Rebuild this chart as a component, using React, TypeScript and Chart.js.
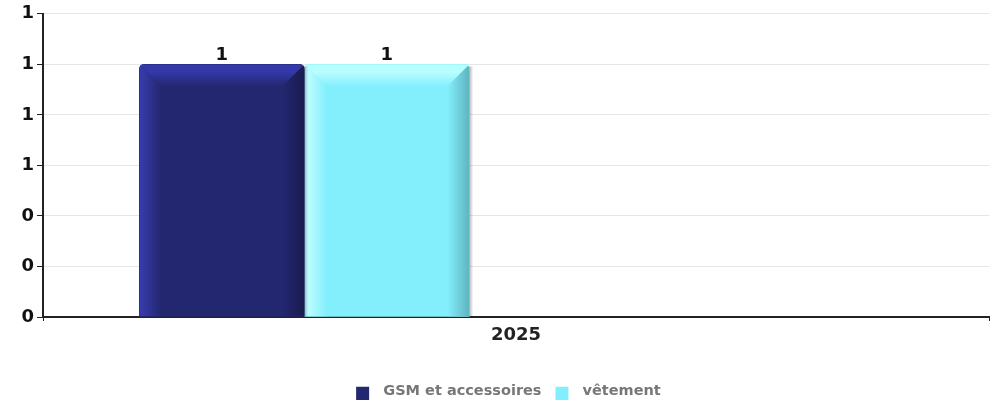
import { useEffect, useRef } from 'react';
import { Chart, registerables } from 'chart.js';

Chart.register(...registerables);

// ---- data ----
const categories = ['2025'];
const seriesNames = ['GSM et accessoires', 'vêtement'];
const gsmValues = [1];
const vetementValues = [1];
const yMin = 0;
const yMax = 1.2;
const yStep = 0.2;

// ---- styles ----
const FONT = "'DejaVu Sans', 'Liberation Sans', sans-serif";
const baseColors = ['#23276f', '#84effc'];
const leftColors = ['#383cae', '#c8ffff'];
const topColors = ['#3438a8', '#b8feff'];
const rightColors = ['#1a1b50', '#5db4bf'];

function makeSwatch(color: string) {
  const c = document.createElement('canvas');
  c.width = 26;
  c.height = 17;
  const g = c.getContext('2d')!;
  g.fillStyle = color;
  g.fillRect(6, 4, 13, 13);
  return c;
}

function topRoundedRect(ctx: CanvasRenderingContext2D, x0: number, y0: number, x1: number, y1: number, r: number) {
  ctx.beginPath();
  ctx.moveTo(x0, y1);
  ctx.lineTo(x0, y0 + r);
  ctx.quadraticCurveTo(x0, y0, x0 + r, y0);
  ctx.lineTo(x1 - r, y0);
  ctx.quadraticCurveTo(x1, y0, x1, y0 + r);
  ctx.lineTo(x1, y1);
  ctx.closePath();
}

const bevelPlugin = {
  id: 'bevel',
  afterDatasetDraw(chart: any, args: any) {
    const ctx: CanvasRenderingContext2D = chart.ctx;
    const i = args.index;
    args.meta.data.forEach((el: any) => {
      const p = el.getProps(['x', 'y', 'base', 'width'], true);
      const x0 = p.x - p.width / 2;
      const x1 = p.x + p.width / 2;
      const y0 = Math.min(p.y, p.base);
      const y1 = Math.max(p.y, p.base);
      const b = Math.min(22, p.width / 4, (y1 - y0) / 2);
      ctx.save();
      // right shadow
      const sg = ctx.createLinearGradient(x1, 0, x1 + 4, 0);
      sg.addColorStop(0, 'rgba(0,0,0,0.28)');
      sg.addColorStop(1, 'rgba(0,0,0,0)');
      ctx.fillStyle = sg;
      ctx.fillRect(x1, y0 + 2, 4, y1 - y0 - 2);
      topRoundedRect(ctx, x0, y0, x1, y1, 5);
      ctx.clip();
      // left strip
      let g = ctx.createLinearGradient(x0, 0, x0 + b, 0);
      g.addColorStop(0, leftColors[i]);
      g.addColorStop(1, baseColors[i]);
      ctx.fillStyle = g;
      ctx.beginPath();
      ctx.moveTo(x0, y0);
      ctx.lineTo(x0 + b, y0 + b);
      ctx.lineTo(x0 + b, y1);
      ctx.lineTo(x0, y1);
      ctx.closePath();
      ctx.fill();
      // right strip
      g = ctx.createLinearGradient(x1 - b, 0, x1, 0);
      g.addColorStop(0, baseColors[i]);
      g.addColorStop(1, rightColors[i]);
      ctx.fillStyle = g;
      ctx.beginPath();
      ctx.moveTo(x1, y0);
      ctx.lineTo(x1, y1);
      ctx.lineTo(x1 - b, y1);
      ctx.lineTo(x1 - b, y0 + b);
      ctx.closePath();
      ctx.fill();
      // top strip
      g = ctx.createLinearGradient(0, y0, 0, y0 + b);
      g.addColorStop(0, topColors[i]);
      g.addColorStop(0.35, topColors[i]);
      g.addColorStop(1, baseColors[i]);
      ctx.fillStyle = g;
      ctx.beginPath();
      ctx.moveTo(x0, y0);
      ctx.lineTo(x1, y0);
      ctx.lineTo(x1 - b, y0 + b);
      ctx.lineTo(x0 + b, y0 + b);
      ctx.closePath();
      ctx.fill();
      ctx.restore();
    });
  },
};

const valueLabelPlugin = {
  id: 'valueLabels',
  afterDatasetsDraw(chart: any) {
    const ctx: CanvasRenderingContext2D = chart.ctx;
    ctx.save();
    ctx.font = `bold 18px ${FONT}`;
    ctx.fillStyle = '#111';
    ctx.textAlign = 'center';
    ctx.textBaseline = 'alphabetic';
    chart.data.datasets.forEach((ds: any, di: number) => {
      const meta = chart.getDatasetMeta(di);
      meta.data.forEach((el: any, j: number) => {
        const v = ds.data[j];
        if (v == null) return;
        ctx.fillText(String(Math.round(v)), el.x, el.y - 4);
      });
    });
    ctx.restore();
  },
};

export default function App() {
  const ref = useRef<HTMLCanvasElement | null>(null);

  useEffect(() => {
    if (!ref.current) return;
    const year = Number(categories[0]);
    const seriesValues = [gsmValues, vetementValues];
    const chart = new Chart(ref.current, {
      type: 'bar',
      data: {
        labels: categories,
        datasets: seriesNames.map((name, i) => ({
          label: name,
          data: seriesValues[i],
          backgroundColor: baseColors[i],
          borderWidth: 0,
          borderRadius: { topLeft: 5, topRight: 5, bottomLeft: 0, bottomRight: 0 },
          borderSkipped: 'bottom',
          barThickness: 165,
          xAxisID: 'xb',
          yAxisID: 'y',
        })),
      },
      options: {
        responsive: false,
        animation: false,
        events: [],
        layout: { padding: { top: 12, right: 9, left: 22, bottom: 0 } },
        plugins: {
          tooltip: { enabled: false },
          legend: {
            position: 'bottom',
            maxHeight: 27,
            labels: {
              usePointStyle: true,
              pointStyleWidth: 25.75,
              padding: 8,
              color: '#777',
              font: { family: FONT, size: 14.5, weight: 'bold' },
              generateLabels: (c: any) =>
                c.data.datasets.map((ds: any, i: number) => ({
                  text: ds.label,
                  fillStyle: baseColors[i],
                  strokeStyle: baseColors[i],
                  lineWidth: 0,
                  hidden: false,
                  datasetIndex: i,
                  pointStyle: makeSwatch(baseColors[i]),
                  fontColor: '#777',
                })),
            },
          },
        },
        scales: {
          xb: {
            type: 'linear',
            display: false,
            offset: false,
            min: year - 0.5,
            max: year + 1.31,
          },
          x: {
            type: 'category',
            position: 'bottom',
            offset: true,
            grid: { drawOnChartArea: false, tickLength: 4, tickColor: '#222', offset: true },
            border: { color: '#222', width: 2 },
            ticks: { color: '#222', padding: 4, font: { family: FONT, size: 18, weight: 'bold' } },
            afterFit: (s: any) => {
              s.height = 59;
            },
          },
          y: {
            type: 'linear',
            position: 'left',
            min: yMin,
            max: yMax,
            grid: { color: '#e6e6e6', tickLength: 6, tickColor: '#222', lineWidth: 1 },
            border: { color: '#222', width: 2 },
            ticks: {
              stepSize: yStep,
              padding: 3,
              color: '#111',
              font: { family: FONT, size: 18, weight: 'bold' },
              callback: (v: any) => Number(v).toFixed(0),
            },
            afterFit: (s: any) => {
              s.width = 21;
            },
          },
        },
      },
      plugins: [bevelPlugin, valueLabelPlugin],
    } as any);
    return () => chart.destroy();
  }, []);

  return (
    <div style={{ position: 'absolute', left: 0, top: 0, width: 998, height: 403, background: '#fff' }}>
      <canvas ref={ref} width={998} height={403} style={{ display: 'block' }} />
    </div>
  );
}
